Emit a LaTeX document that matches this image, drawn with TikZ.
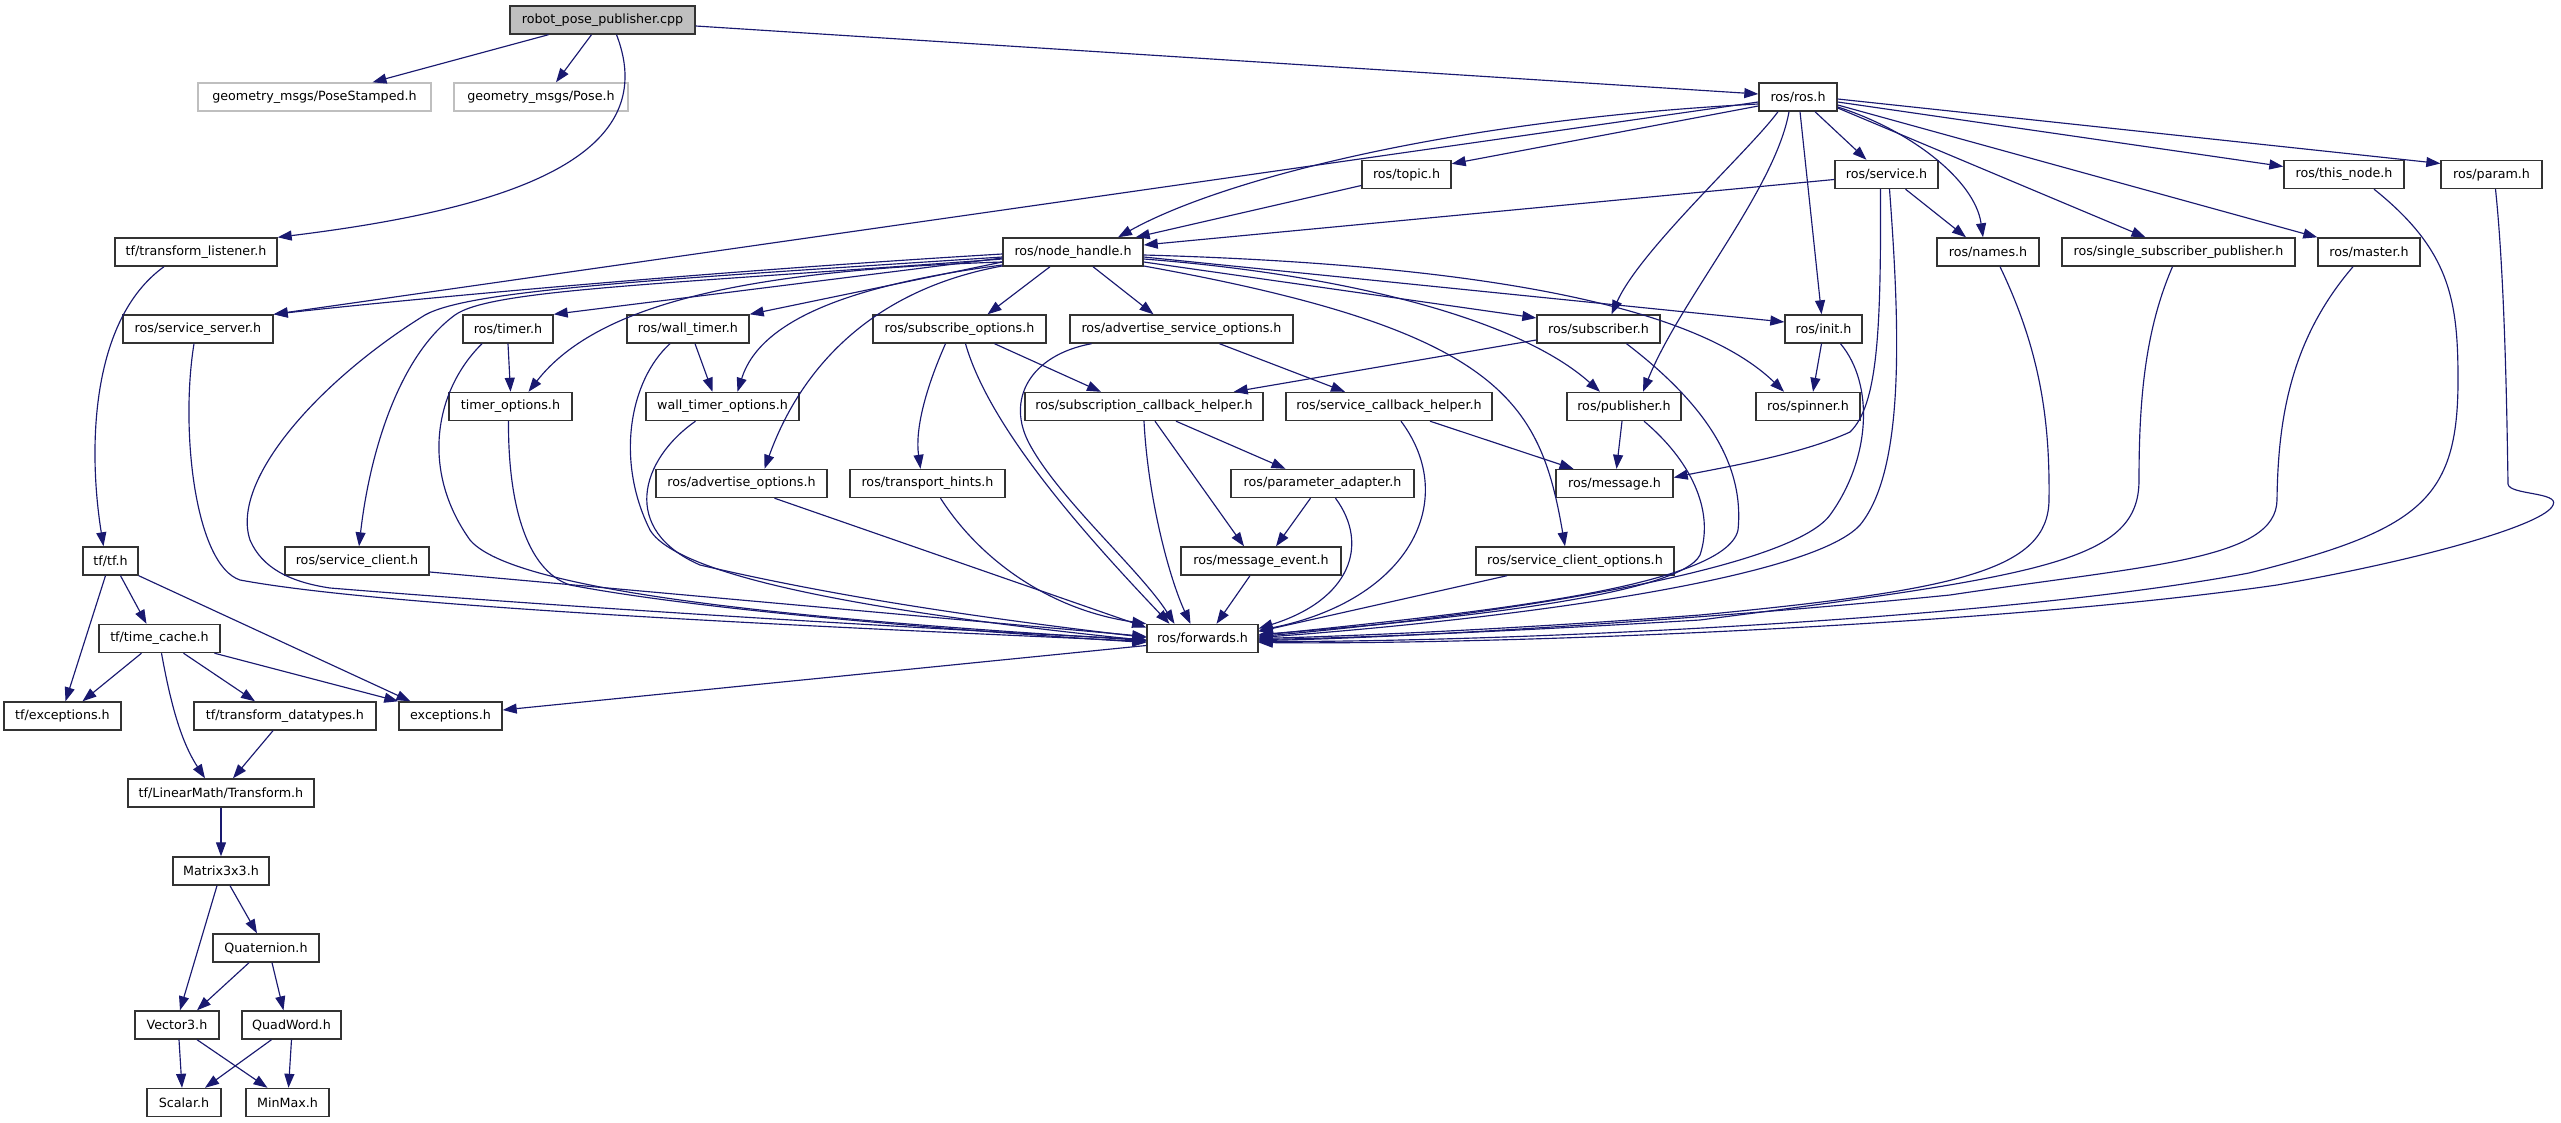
\documentclass[tikz,border=0pt]{standalone}
\usepackage{fontspec}
\newfontfamily\dvfont{DejaVu Sans}
\usetikzlibrary{arrows.meta}
\definecolor{edgeblue}{HTML}{191970}
\definecolor{rootgrey}{HTML}{BFBFBF}
\begin{document}
\begin{tikzpicture}[x=1pt,y=-1pt,
  box/.style={draw=black!80, line width=1.4pt, fill=white, minimum height=28pt,
    inner sep=0pt, text=black, font=\dvfont\fontsize{12.7}{14}\selectfont},
  rootbox/.style={box, fill=rootgrey},
  extbox/.style={box, draw=rootgrey},
  edge/.style={draw=edgeblue, line width=1.15pt, -{Triangle[length=14pt,width=10pt]}}]
\useasboundingbox[fill=white] (0,0) rectangle (2561,1123);
% ---------- nodes ----------
\node[rootbox, minimum width=185pt] (root) at (602.5,20) {robot\_pose\_publisher.cpp};
\node[extbox, minimum width=233pt] (ps) at (314.5,97) {geometry\_msgs/PoseStamped.h};
\node[extbox, minimum width=174pt] (pose) at (541,97) {geometry\_msgs/Pose.h};
\node[box, minimum width=78pt] (ros) at (1798,97) {ros/ros.h};
\node[box, minimum width=89pt] (topic) at (1406.5,174.5) {ros/topic.h};
\node[box, minimum width=103pt] (srv) at (1886.5,174.5) {ros/service.h};
\node[box, minimum width=120pt] (thisn) at (2344,174.5) {ros/this\_node.h};
\node[box, minimum width=101pt] (param) at (2491.5,174.5) {ros/param.h};
\node[box, minimum width=162pt] (tl) at (196,252) {tf/transform\_listener.h};
\node[box, minimum width=140pt] (nh) at (1073,252) {ros/node\_handle.h};
\node[box, minimum width=102pt] (names) at (1988,252) {ros/names.h};
\node[box, minimum width=233pt] (ssp) at (2178.5,252) {ros/single\_subscriber\_publisher.h};
\node[box, minimum width=102pt] (master) at (2369,252) {ros/master.h};
\node[box, minimum width=150pt] (ssrv) at (198,329) {ros/service\_server.h};
\node[box, minimum width=90pt] (timer) at (508,329) {ros/timer.h};
\node[box, minimum width=122pt] (wtimer) at (688,329) {ros/wall\_timer.h};
\node[box, minimum width=173pt] (subo) at (959.5,329) {ros/subscribe\_options.h};
\node[box, minimum width=223pt] (advso) at (1181.5,329) {ros/advertise\_service\_options.h};
\node[box, minimum width=123pt] (sub) at (1598.5,329) {ros/subscriber.h};
\node[box, minimum width=77pt] (init) at (1823.5,329) {ros/init.h};
\node[box, minimum width=123pt] (topt) at (510.5,406.5) {timer\_options.h};
\node[box, minimum width=153pt] (wtopt) at (722.5,406.5) {wall\_timer\_options.h};
\node[box, minimum width=238pt] (sch) at (1144,406.5) {ros/subscription\_callback\_helper.h};
\node[box, minimum width=206pt] (scbh) at (1389,406.5) {ros/service\_callback\_helper.h};
\node[box, minimum width=114pt] (pub) at (1624,406.5) {ros/publisher.h};
\node[box, minimum width=104pt] (spin) at (1808,406.5) {ros/spinner.h};
\node[box, minimum width=171pt] (advo) at (741.5,483.5) {ros/advertise\_options.h};
\node[box, minimum width=155pt] (th) at (927.5,483.5) {ros/transport\_hints.h};
\node[box, minimum width=183pt] (pa) at (1322.5,483.5) {ros/parameter\_adapter.h};
\node[box, minimum width=117pt] (msg) at (1614.5,483.5) {ros/message.h};
\node[box, minimum width=55pt] (tf) at (110.5,561) {tf/tf.h};
\node[box, minimum width=144pt] (sc) at (357,561) {ros/service\_client.h};
\node[box, minimum width=160pt] (me) at (1261,561) {ros/message\_event.h};
\node[box, minimum width=198pt] (sco) at (1575,561) {ros/service\_client\_options.h};
\node[box, minimum width=121pt] (tc) at (159.5,638.5) {tf/time\_cache.h};
\node[box, minimum width=111pt] (fwd) at (1202.5,638.5) {ros/forwards.h};
\node[box, minimum width=117pt] (tfexc) at (62.5,716) {tf/exceptions.h};
\node[box, minimum width=182pt] (tdt) at (285,716) {tf/transform\_datatypes.h};
\node[box, minimum width=103pt] (exc) at (450.5,716) {exceptions.h};
\node[box, minimum width=186pt] (trf) at (221,793) {tf/LinearMath/Transform.h};
\node[box, minimum width=96pt] (mat) at (221,871) {Matrix3x3.h};
\node[box, minimum width=106pt] (quat) at (266,948) {Quaternion.h};
\node[box, minimum width=84pt] (vec) at (177,1025) {Vector3.h};
\node[box, minimum width=99pt] (qw) at (291.5,1025) {QuadWord.h};
\node[box, minimum width=74pt] (scal) at (184,1102.5) {Scalar.h};
\node[box, minimum width=83pt] (mm) at (287.5,1102.5) {MinMax.h};
% ---------- edges: root ----------
\draw[edge] ([xshift=-54]root.south) -- ([xshift=58]ps.north);
\draw[edge] ([xshift=-11]root.south) -- ([xshift=15]pose.north);
\draw[edge] ([xshift=14]root.south) .. controls (665,160) and (500,210) .. (tl.north east);
\draw[edge] ([yshift=-6]root.east) -- ([yshift=3]ros.west);
% ---------- ros/ros.h ----------
\draw[edge] ([yshift=-5]ros.west) -- (ssrv.north east);
\draw[edge] ([yshift=-7]ros.west) .. controls (1450,120) and (1220,180) .. ([xshift=45]nh.north);
\draw[edge] ([yshift=-9]ros.west) -- ([yshift=-4]topic.north east);
\draw[edge] ([xshift=-20]ros.south) .. controls (1750,150) and (1640,250) .. ([xshift=13]sub.north);
\draw[edge] ([xshift=-9]ros.south) .. controls (1775,190) and (1680,300) .. ([xshift=19]pub.north);
\draw[edge] ([xshift=2]ros.south) -- ([xshift=-2]init.north);
\draw[edge] ([xshift=17]ros.south) -- ([xshift=-20]srv.north);
\draw[edge] ([yshift=-10]ros.east) .. controls (1910,130) and (1975,180) .. ([xshift=-5]names.north);
\draw[edge] ([yshift=-11]ros.east) -- ([xshift=-33]ssp.north);
\draw[edge] ([yshift=-8]ros.east) -- (master.north west);
\draw[edge] ([yshift=-5]ros.east) -- ([yshift=8]thisn.west);
\draw[edge] ([yshift=-2]ros.east) -- ([yshift=11]param.west);
% ---------- topic / service ----------
\draw[edge] ([yshift=-11]topic.west) -- ([xshift=-8]nh.north east);
\draw[edge] ([yshift=-5]srv.west) -- ([yshift=7]nh.east);
\draw[edge] ([xshift=19]srv.south) -- ([xshift=-22]names.north);
\draw[edge] ([xshift=-6]srv.south) .. controls (1881,330) and (1878,405) .. (1850,432)
  .. controls (1800,455) and (1720,468) .. ([yshift=6]msg.east);
\draw[edge] ([xshift=3]srv.south) .. controls (1900,330) and (1905,470) .. (1860,525)
  .. controls (1810,580) and (1500,620) .. ([yshift=1]fwd.east);
% ---------- node_handle ----------
\draw[edge] ([yshift=-2]nh.west) .. controls (700,272) and (400,300) .. (ssrv.north east);
\draw[edge] ([yshift=-5]nh.west) .. controls (650,280) and (470,290) .. (425,315)
  .. controls (320,380) and (230,480) .. (250,540)
  .. controls (262,568) and (290,582) .. (330,588)
  .. controls (600,610) and (950,630) .. ([yshift=-1]fwd.west);
\draw[edge] ([yshift=-7]nh.west) .. controls (650,285) and (490,290) .. (455,315)
  .. controls (400,355) and (370,450) .. ([xshift=2]sc.north);
\draw[edge] ([yshift=-6]nh.west) -- (timer.north east);
\draw[edge] ([yshift=-10]nh.west) .. controls (760,270) and (600,300) .. ([xshift=18]topt.north);
\draw[edge] ([yshift=-10]nh.west) -- (wtimer.north east);
\draw[edge] ([yshift=-13]nh.west) .. controls (850,285) and (760,320) .. ([xshift=15]wtopt.north);
\draw[edge] ([yshift=-14]nh.west) .. controls (870,290) and (800,370) .. ([xshift=23]advo.north);
\draw[edge] ([xshift=-23]nh.south) -- ([xshift=28]subo.north);
\draw[edge] ([xshift=20]nh.south) -- ([xshift=-28]advso.north);
\draw[edge] ([yshift=-10]nh.east) -- ([yshift=11]sub.west);
\draw[edge] ([yshift=-5]nh.east) -- ([yshift=7]init.west);
\draw[edge] ([yshift=-3]nh.east) .. controls (1500,265) and (1700,310) .. ([xshift=-24]spin.north);
\draw[edge] ([yshift=-7]nh.east) .. controls (1350,275) and (1520,320) .. ([xshift=-24]pub.north);
\draw[edge] ([yshift=-14]nh.east) .. controls (1500,330) and (1540,400) .. ([xshift=-10]sco.north);
% ---------- row 5 ----------
\draw[edge] ([xshift=-4]ssrv.south) .. controls (180,430) and (195,565) .. (240,580)
  .. controls (400,610) and (900,630) .. ([yshift=-3]fwd.west);
\draw[edge] (timer.south) -- (topt.north);
\draw[edge] ([xshift=-26]timer.south) .. controls (435,390) and (420,470) .. (470,540)
  .. controls (520,600) and (900,625) .. ([yshift=-2]fwd.west);
\draw[edge] ([xshift=7]wtimer.south) -- ([xshift=-10]wtopt.north);
\draw[edge] ([xshift=-18]wtimer.south) .. controls (630,380) and (615,460) .. (650,530)
  .. controls (680,580) and (900,615) .. ([yshift=-2]fwd.west);
\draw[edge] ([xshift=-14]subo.south) .. controls (925,390) and (915,430) .. ([xshift=-7]th.north);
\draw[edge] ([xshift=6]subo.south) .. controls (990,430) and (1090,540) .. ([xshift=-33]fwd.north);
\draw[edge] ([xshift=35]subo.south) -- ([xshift=-43]sch.north);
\draw[edge] ([xshift=-90]advso.south) .. controls (1030,355) and (1005,400) .. (1030,445)
  .. controls (1060,500) and (1140,570) .. ([xshift=-28]fwd.north);
\draw[edge] ([xshift=38]advso.south) -- ([xshift=-44]scbh.north);
\draw[edge] ([yshift=-11]sub.west) -- ([xshift=-30]sch.north east);
\draw[edge] ([xshift=28]sub.south) .. controls (1700,400) and (1745,460) .. (1738,530)
  .. controls (1725,590) and (1450,615) .. ([yshift=3]fwd.east);
\draw[edge] ([xshift=-2]init.south) -- ([xshift=5]spin.north);
\draw[edge] ([xshift=17]init.south) .. controls (1875,385) and (1870,460) .. (1830,515)
  .. controls (1790,570) and (1500,615) .. ([yshift=2]fwd.east);
% ---------- far right to forwards ----------
\draw[edge] ([xshift=12]names.south) .. controls (2040,350) and (2050,420) .. (2049,500)
  .. controls (2048,570) and (1960,590) .. (1700,615)
  .. controls (1500,630) and (1350,636) .. (fwd.east);
\draw[edge] ([xshift=-6]ssp.south) .. controls (2145,330) and (2139,400) .. (2139,480)
  .. controls (2139,560) and (2050,575) .. (1700,620)
  .. controls (1500,632) and (1350,638) .. ([yshift=-1]fwd.east);
\draw[edge] ([xshift=-16]master.south) .. controls (2290,340) and (2278,420) .. (2277,500)
  .. controls (2276,560) and (2150,565) .. (1950,595)
  .. controls (1700,620) and (1400,638) .. ([yshift=-2]fwd.east);
\draw[edge] ([xshift=30]thisn.south) .. controls (2450,250) and (2458,300) .. (2458,380)
  .. controls (2458,500) and (2420,530) .. (2249,573)
  .. controls (2000,620) and (1500,642) .. ([yshift=-3]fwd.east);
\draw[edge] ([xshift=4]param.south) .. controls (2505,280) and (2507,420) .. (2508,484)
  .. controls (2509,495) and (2560,492) .. (2553,505)
  .. controls (2545,525) and (2420,560) .. (2277,585)
  .. controls (2000,625) and (1500,645) .. ([yshift=-4]fwd.east);
% ---------- row 6 ----------
\draw[edge] ([xshift=-2]topt.south) .. controls (508,500) and (525,570) .. (570,585)
  .. controls (700,610) and (950,630) .. ([yshift=-4]fwd.west);
\draw[edge] ([xshift=-27]wtopt.south) .. controls (640,460) and (620,530) .. (700,565)
  .. controls (850,600) and (1000,620) .. ([yshift=1]fwd.west);
\draw[edge] (sch.south) .. controls (1148,500) and (1170,580) .. ([xshift=-12]fwd.north);
\draw[edge] ([xshift=11]sch.south) -- ([xshift=-17]me.north);
\draw[edge] ([xshift=32]sch.south) -- ([xshift=-37]pa.north);
\draw[edge] ([xshift=41]scbh.south) -- ([xshift=-41]msg.north);
\draw[edge] ([xshift=12]scbh.south) .. controls (1460,500) and (1410,600) .. ([yshift=8]fwd.east);
\draw[edge] ([xshift=-2]pub.south) -- ([xshift=2]msg.north);
\draw[edge] ([xshift=20]pub.south) .. controls (1690,460) and (1715,510) .. (1700,555)
  .. controls (1680,595) and (1450,620) .. ([yshift=4]fwd.east);
% ---------- row 7 / 8 ----------
\draw[edge] ([xshift=33]advo.south) -- ([yshift=11]fwd.west);
\draw[edge] ([xshift=13]th.south) .. controls (980,560) and (1050,610) .. (fwd.north west);
\draw[edge] ([xshift=-12]pa.south) -- ([xshift=15]me.north);
\draw[edge] ([xshift=13]pa.south) .. controls (1370,545) and (1350,600) .. ([yshift=10]fwd.east);
\draw[edge] ([xshift=-11]me.south) -- ([xshift=14]fwd.north);
\draw[edge] ([xshift=-68]sco.south) -- ([yshift=7]fwd.east);
\draw[edge] ([yshift=-11]sc.east) -- ([yshift=2]fwd.west);
\draw[edge] ([yshift=-7]fwd.west) -- ([yshift=6]exc.east);
% ---------- tf chain ----------
\draw[edge] ([xshift=-32]tl.south) .. controls (90,320) and (88,450) .. ([xshift=-7]tf.north);
\draw[edge] ([xshift=-5]tf.south) -- ([xshift=3]tfexc.north);
\draw[edge] ([xshift=10]tf.south) -- ([xshift=-13]tc.north);
\draw[edge] (tf.south east) -- ([xshift=-40]exc.north);
\draw[edge] ([xshift=-18]tc.south) -- ([xshift=20]tfexc.north);
\draw[edge] ([xshift=24]tc.south) -- ([xshift=-30]tdt.north);
\draw[edge] ([xshift=55]tc.south) -- (exc.north west);
\draw[edge] ([xshift=2]tc.south) .. controls (170,700) and (180,740) .. ([xshift=-16]trf.north);
\draw[edge] ([xshift=-12]tdt.south) -- ([xshift=12]trf.north);
\draw[edge] (trf.south) -- (mat.north);
\draw[edge] ([xshift=-4]mat.south) -- ([xshift=3]vec.north);
\draw[edge] ([xshift=9]mat.south) -- ([xshift=-9]quat.north);
\draw[edge] ([xshift=-17]quat.south) -- ([xshift=20]vec.north);
\draw[edge] ([xshift=6]quat.south) -- ([xshift=-8]qw.north);
\draw[edge] ([xshift=2]vec.south) -- ([xshift=-2]scal.north);
\draw[edge] ([xshift=20]vec.south) -- ([xshift=-20]mm.north);
\draw[edge] ([xshift=-20]qw.south) -- ([xshift=21]scal.north);
\draw[edge] (qw.south) -- ([xshift=1]mm.north);
\end{tikzpicture}
\end{document}
